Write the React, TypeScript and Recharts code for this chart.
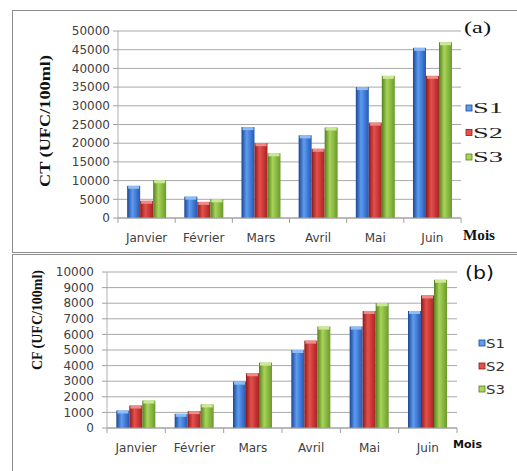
import React from "react";
import { BarChart, Bar, XAxis, YAxis, CartesianGrid, Legend, Label } from "recharts";

const months = ["Janvier", "Février", "Mars", "Avril", "Mai", "Juin"];
const seriesNames = ["S1", "S2", "S3"];

// (a) CT (UFC/100ml)
const ctS1 = [8600, 5700, 24300, 22100, 35000, 45500];
const ctS2 = [4600, 4300, 20000, 18500, 25500, 38000];
const ctS3 = [10100, 5000, 17300, 24200, 38000, 47000];
const ctTicks = [0, 5000, 10000, 15000, 20000, 25000, 30000, 35000, 40000, 45000, 50000];

// (b) CF (UFC/100ml)
const cfS1 = [1120, 910, 2970, 5000, 6500, 7500];
const cfS2 = [1440, 1080, 3510, 5600, 7500, 8500];
const cfS3 = [1760, 1510, 4190, 6500, 8000, 9500];
const cfTicks = [0, 1000, 2000, 3000, 4000, 5000, 6000, 7000, 8000, 9000, 10000];

const ctData = months.map((m, i) => ({ month: m, S1: ctS1[i], S2: ctS2[i], S3: ctS3[i] }));
const cfData = months.map((m, i) => ({ month: m, S1: cfS1[i], S2: cfS2[i], S3: cfS3[i] }));

// dark edge, highlight, right edge, cap
const COLORS: Record<string, string[]> = {
  S1: ["#1b4694", "#5e9cf0", "#2458b4", "#8fbcf5"],
  S2: ["#8e1a1a", "#e4504c", "#a82222", "#f08a86"],
  S3: ["#557f1f", "#a8d459", "#6b9a2a", "#cbe897"],
};

const SANS = "'DejaVu Sans', Verdana, sans-serif";
const SERIF = "'Liberation Serif', 'Times New Roman', serif";

const Gradients = ({ id }: { id: string }) => (
  <defs>
    {seriesNames.map((s) => (
      <linearGradient key={s} id={`${id}-${s}`} x1="0" y1="0" x2="1" y2="0">
        <stop offset="0%" stopColor={COLORS[s][0]} />
        <stop offset="40%" stopColor={COLORS[s][1]} />
        <stop offset="100%" stopColor={COLORS[s][2]} />
      </linearGradient>
    ))}
  </defs>
);

const Cylinder = (props: any) => {
  const { x, y, width, height, fill, cap } = props;
  if (!height || height <= 0) return null;
  return (
    <g>
      <rect x={x} y={y} width={width} height={height} fill={fill} />
      <rect x={x + 1} y={y} width={width - 2} height={Math.min(3, height)} fill={cap} />
    </g>
  );
};

const MonthTick = ({ x, y, payload, index, band, last }: any) => (
  <g>
    <line x1={x - band / 2} x2={x - band / 2} y1={y} y2={y + 5} stroke="#a0a0a0" />
    {index === last && <line x1={x + band / 2} x2={x + band / 2} y1={y} y2={y + 5} stroke="#a0a0a0" />}
    <text x={x} y={y + 20} textAnchor="middle" dominantBaseline="central" fill="#404040" fontSize={12} fontFamily={SANS}>
      {payload.value}
    </text>
  </g>
);

const LegendA = () => (
  <svg width={50} height={75}>
    {seriesNames.map((s, i) => (
      <g key={s}>
        <rect x={4} y={13 + i * 24.5 - 3} width={6} height={6} fill={COLORS[s][1]} stroke={COLORS[s][0]} strokeWidth={0.8} />
        <text x={11} y={13 + i * 24.5 + 5} fontFamily={SERIF} fontSize={15} fill="#222" textLength={30} lengthAdjust="spacingAndGlyphs">
          {s}
        </text>
      </g>
    ))}
  </svg>
);

const LegendB = () => (
  <svg width={45} height={75}>
    {seriesNames.map((s, i) => (
      <g key={s}>
        <rect x={3} y={12 + i * 23 - 3} width={6} height={6} fill={COLORS[s][1]} stroke={COLORS[s][0]} strokeWidth={0.8} />
        <text x={10} y={12 + i * 23 + 4.5} fontFamily={SANS} fontSize={12} fill="#333" textLength={19} lengthAdjust="spacingAndGlyphs">
          {s}
        </text>
      </g>
    ))}
  </svg>
);

const bars = (id: string) =>
  seriesNames.map((s) => (
    <Bar
      key={s}
      dataKey={s}
      fill={`url(#${id}-${s})`}
      isAnimationActive={false}
      shape={(p: any) => <Cylinder {...p} cap={COLORS[s][3]} />}
    />
  ));

export default function App() {
  return (
    <div style={{ position: "absolute", left: 0, top: 0, width: 517, height: 471, background: "#fff", overflow: "hidden" }}>
      <div style={{ position: "absolute", left: 12, top: 10, width: 520, height: 243, border: "1px solid #8c8c8c", boxSizing: "border-box" }} />
      <div style={{ position: "absolute", left: 12, top: 254, width: 520, height: 230, border: "1px solid #8c8c8c", boxSizing: "border-box" }} />

      {/* (a) */}
      <div style={{ position: "absolute", left: 0, top: 0 }}>
        <BarChart width={517} height={252} data={ctData} margin={{ top: 31, right: 56, bottom: 10, left: 58 }} barCategoryGap="16%" barGap={0}>
          <Gradients id="ga" />
          <CartesianGrid vertical={false} stroke="#a8a8a8" />
          <XAxis
            dataKey="month"
            height={24}
            axisLine={{ stroke: "#a0a0a0" }}
            tickLine={false}
            tickSize={0}
            tickMargin={0}
            interval={0}
            tick={<MonthTick band={343 / 6} last={months.length - 1} />}
          />
          <YAxis
            width={60}
            domain={[0, 50000]}
            ticks={ctTicks}
            interval={0}
            axisLine={{ stroke: "#b0b0b0" }}
            tickLine={{ stroke: "#a0a0a0" }}
            tickSize={5}
            tickMargin={3}
            tick={{ fontSize: 12, fill: "#404040", fontFamily: SANS }}
          >
            <Label
              content={() => (
                <text x={45} y={121} transform="rotate(-90 45 121)" textAnchor="middle" dominantBaseline="central" fontFamily={SERIF} fontWeight="bold" fontSize={15} fill="#111" textLength={132} lengthAdjust="spacingAndGlyphs">
                  CT (UFC/100ml)
                </text>
              )}
            />
          </YAxis>
          <Legend
            layout="vertical"
            align="center"
            verticalAlign="middle"
            content={() => <LegendA />}
            wrapperStyle={{ left: 462, top: 95, width: 50, height: 75 }}
          />
          {bars("ga")}
        </BarChart>
      </div>

      {/* (b) */}
      <div style={{ position: "absolute", left: 0, top: 253 }}>
        <BarChart width={517} height={218} data={cfData} margin={{ top: 19, right: 60, bottom: 13, left: 47 }} barCategoryGap="16%" barGap={0}>
          <Gradients id="gb" />
          <CartesianGrid vertical={false} stroke="#a8a8a8" />
          <XAxis
            dataKey="month"
            height={30}
            axisLine={{ stroke: "#a0a0a0" }}
            tickLine={false}
            tickSize={0}
            tickMargin={0}
            interval={0}
            tick={<MonthTick band={350 / 6} last={months.length - 1} />}
          />
          <YAxis
            width={60}
            domain={[0, 10000]}
            ticks={cfTicks}
            interval={0}
            axisLine={{ stroke: "#b0b0b0" }}
            tickLine={{ stroke: "#a0a0a0" }}
            tickSize={5}
            tickMargin={8}
            tick={{ fontSize: 12, fill: "#404040", fontFamily: SANS }}
          >
            <Label
              content={() => (
                <text x={37} y={67} transform="rotate(-90 37 67)" textAnchor="middle" dominantBaseline="central" fontFamily={SERIF} fontWeight="bold" fontSize={14} fill="#111" textLength={100} lengthAdjust="spacingAndGlyphs">
                  CF (UFC/100ml)
                </text>
              )}
            />
          </YAxis>
          <Legend
            layout="vertical"
            align="center"
            verticalAlign="middle"
            content={() => <LegendB />}
            wrapperStyle={{ left: 476, top: 78, width: 45, height: 75 }}
          />
          {bars("gb")}
        </BarChart>
      </div>

      <svg width={517} height={471} style={{ position: "absolute", left: 0, top: 0, pointerEvents: "none" }}>
        <text x={464} y={33} fontFamily={SERIF} fontSize={17} fill="#111" textLength={27} lengthAdjust="spacingAndGlyphs">(a)</text>
        <text x={463} y={240} fontFamily={SERIF} fontWeight="bold" fontSize={15} fill="#111" textLength={32} lengthAdjust="spacingAndGlyphs">Mois</text>
        <text x={465} y={279} fontFamily={SANS} fontSize={17} fill="#111" textLength={29} lengthAdjust="spacingAndGlyphs">(b)</text>
        <text x={453} y={448} fontFamily={SANS} fontWeight="bold" fontSize={11} fill="#111" textLength={29} lengthAdjust="spacingAndGlyphs">Mois</text>
      </svg>
    </div>
  );
}
